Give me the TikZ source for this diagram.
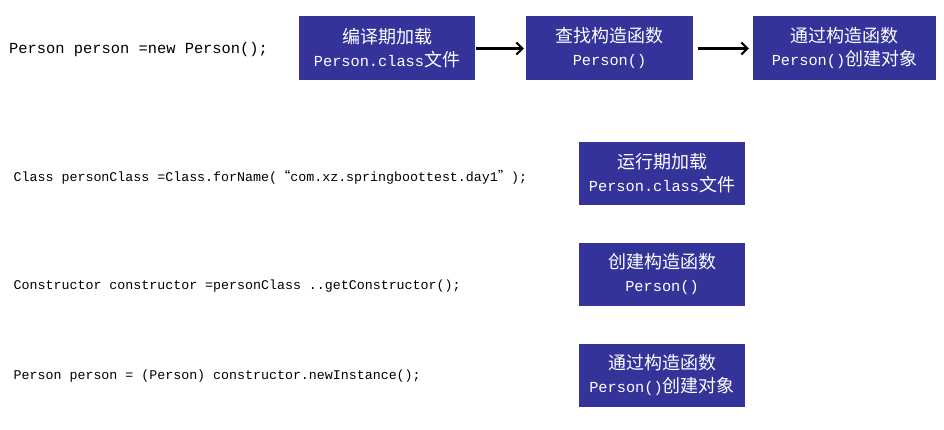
\documentclass[tikz,border=0pt]{standalone}
\usepackage{fontspec}
\setmonofont{Liberation Mono}
\newfontfamily\cjkf{Noto Sans CJK SC}
\usetikzlibrary{arrows.meta}
\definecolor{boxblue}{HTML}{333399}
\newcommand\zh[1]{{\cjkf\fontsize{18}{23}\selectfont #1}}
\newcommand\en[1]{{\ttfamily\fontsize{15.3}{23}\selectfont #1}}
\newcommand\zhs[1]{{\cjkf\fontsize{13.3}{16}\selectfont #1}}
\begin{document}
\begin{tikzpicture}[x=1pt,y=-1pt,
  box/.style={fill=boxblue, text=white, align=center, inner sep=0pt,
    minimum height=64pt, font=\fontsize{18}{23}\selectfont},
  codebig/.style={anchor=west, inner sep=0pt, font=\ttfamily\fontsize{15.4}{18}\selectfont},
  code/.style={anchor=west, inner sep=0pt, font=\ttfamily\fontsize{13.3}{16}\selectfont},
  arr/.style={-{Straight Barb[length=6pt,width=12pt,line width=2pt]}, line width=2.2pt}]
\useasboundingbox (0,0) rectangle (944,430);
\fill[white] (0,0) rectangle (944,430);

\node[codebig] (c1) at (9,50) {Person person =new Person();};
\node[code] (c2) at (13.5,177) {Class personClass =Class.forName(\zhs{“}com.xz.springboottest.day1\zhs{”});};
\node[code] (c3) at (13.5,286) {Constructor constructor =personClass ..getConstructor();};
\node[code] (c4) at (13.5,376) {Person person = (Person) constructor.newInstance();};

\node[box, minimum width=176pt] (b1) at (387,48.5) {\zh{编译期加载}\\\en{Person.class}\zh{文件}};
\node[box, minimum width=167pt] (b2) at (609.5,48.5) {\zh{查找构造函数}\\\en{Person()}};
\node[box, minimum width=183pt] (b3) at (844.5,48.5) {\zh{通过构造函数}\\\en{Person()}\zh{创建对象}};

\node[box, minimum width=166pt, minimum height=63pt] (d1) at (662,173.5) {\zh{运行期加载}\\\en{Person.class}\zh{文件}};
\node[box, minimum width=166pt, minimum height=63pt] (d2) at (662,274.5) {\zh{创建构造函数}\\\en{Person()}};
\node[box, minimum width=166pt, minimum height=63pt] (d3) at (662,375.5) {\zh{通过构造函数}\\\en{Person()}\zh{创建对象}};

\draw[arr] ([xshift=1pt]b1.east) -- ([xshift=-2pt]b2.west);
\draw[arr] ([xshift=5pt]b2.east) -- ([xshift=-4pt]b3.west);
\end{tikzpicture}
\end{document}
